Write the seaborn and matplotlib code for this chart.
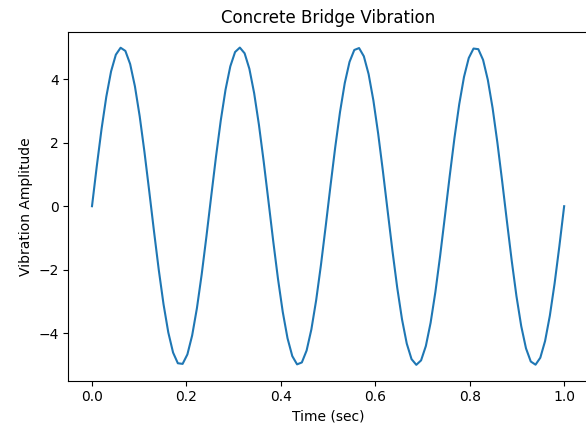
import numpy as np
import pandas as pd
import matplotlib
matplotlib.use("Agg")
import matplotlib.pyplot as plt
import seaborn as sns

amplitude = [
    0.000, 1.256, 2.431, 3.450, 4.249, 4.775, 4.994, 4.894, 4.480, 3.779,
    2.835, 1.710, 0.475, -0.790, -2.005, -3.091, -3.979, -4.612, -4.949, -4.969,
    -4.671, -4.073, -3.214, -2.149, -0.946, 0.317, 1.560, 2.703, 3.673, 4.407,
    4.859, 4.999, 4.819, 4.330, 3.563, 2.568, 1.409, 0.159, -1.102, -2.291,
    -3.334, -4.163, -4.725, -4.984, -4.924, -4.548, -3.881, -2.965, -1.858, -0.633,
    0.633, 1.858, 2.965, 3.881, 4.548, 4.924, 4.984, 4.725, 4.163, 3.334,
    2.291, 1.102, -0.159, -1.409, -2.568, -3.563, -4.330, -4.819, -4.999, -4.859,
    -4.407, -3.673, -2.703, -1.560, -0.317, 0.946, 2.149, 3.214, 4.073, 4.671,
    4.969, 4.949, 4.612, 3.979, 3.091, 2.005, 0.790, -0.475, -1.710, -2.835,
    -3.779, -4.480, -4.894, -4.994, -4.775, -4.249, -3.450, -2.431, -1.256, 0.000,
]
time_sec = np.linspace(0.0, 1.0, len(amplitude))

df = pd.DataFrame({"Time (sec)": time_sec, "Vibration Amplitude": amplitude})

plt.rcParams.update(plt.rcParamsDefault)
fig, ax = plt.subplots(figsize=(5.86, 4.23), dpi=100)
sns.lineplot(data=df, x="Time (sec)", y="Vibration Amplitude", ax=ax, color="#1f77b4")
ax.set_title("Concrete Bridge Vibration")
ax.set_xlabel("Time (sec)")
ax.set_ylabel("Vibration Amplitude")
fig.subplots_adjust(left=0.1167, right=1.003, top=0.925, bottom=0.1)
fig.savefig("out.png", dpi=100)
